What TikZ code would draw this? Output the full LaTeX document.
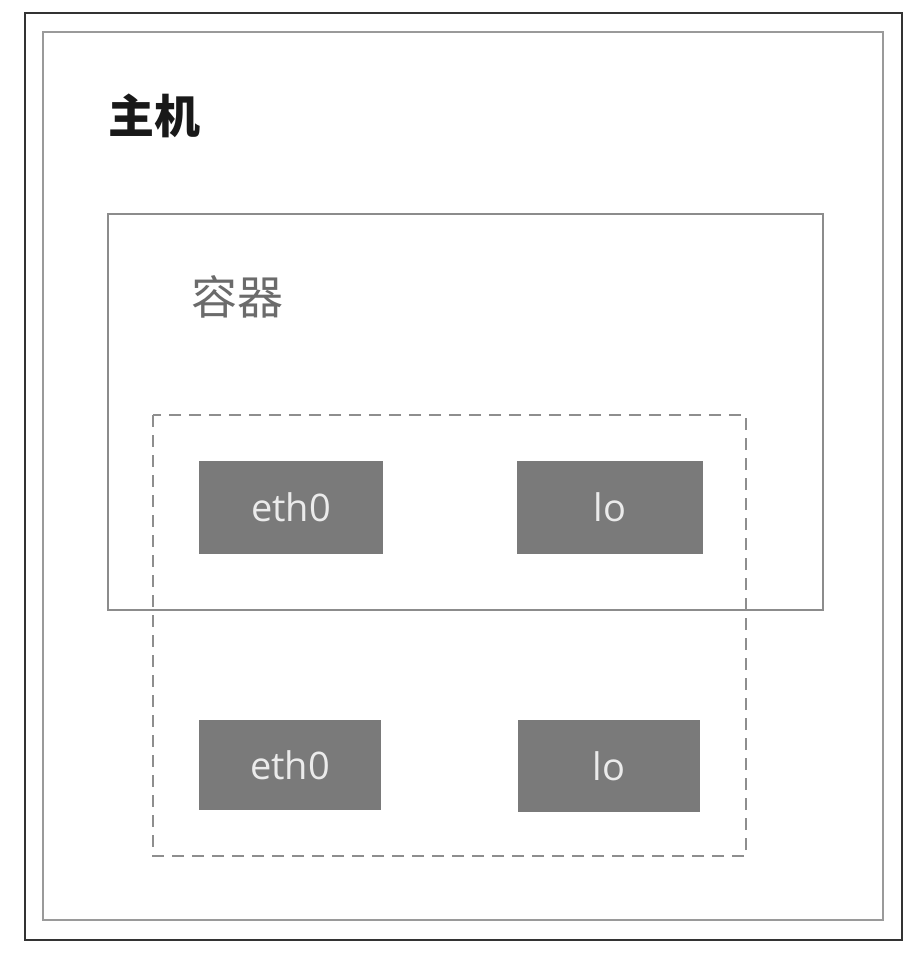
\documentclass[tikz,border=0pt]{standalone}
\usepackage{fontspec}
\setmainfont{Open Sans}
\newfontfamily\cjk{Noto Sans CJK SC}
\definecolor{boxfill}{HTML}{7A7A7A}
\definecolor{boxtext}{HTML}{EBEBEB}
\definecolor{framegray}{HTML}{9A9A9A}
\definecolor{contgray}{HTML}{8C8C8C}
\definecolor{dashgray}{HTML}{8E8E8E}
\begin{document}
\begin{tikzpicture}[x=1pt,y=-1pt,
  nic/.style={fill=boxfill,draw=none},
  nictext/.style={text=boxtext,font=\fontsize{38}{42}\selectfont},
  frame/.style={line width=1.8pt}]
\useasboundingbox (0,0) rectangle (918,956);
\fill[white] (0,0) rectangle (918,956);
% outer frame
\draw[frame,draw=black!80] (25,13) rectangle (902,940);
% inner frame
\draw[frame,draw=framegray] (43,32) rectangle (883,920);
% container
\draw[frame,draw=contgray] (108,214) rectangle (823,610);
% dashed namespace
\draw[line width=2pt,draw=dashgray,dash pattern=on 12pt off 8pt] (153,415) rectangle (746,856);
% labels
\node[font=\cjk\fontsize{46}{50}\selectfont\bfseries, text=black!90, anchor=center] (host) at (154,116) {主机};
\node[font=\cjk\fontsize{46}{50}\selectfont, text=black!58, anchor=center] (cont) at (237,297) {容器};
% interfaces
\path[nic] (199,461) rectangle (383,554);
\node[nictext] (eth0a) at (291,507.5) {eth0};
\path[nic] (517,461) rectangle (703,554);
\node[nictext] (loa) at (610,507.5) {lo};
\path[nic] (199,720) rectangle (381,810);
\node[nictext] (eth0b) at (290,765) {eth0};
\path[nic] (518,720) rectangle (700,812);
\node[nictext] (lob) at (609,766) {lo};
\end{tikzpicture}
\end{document}
